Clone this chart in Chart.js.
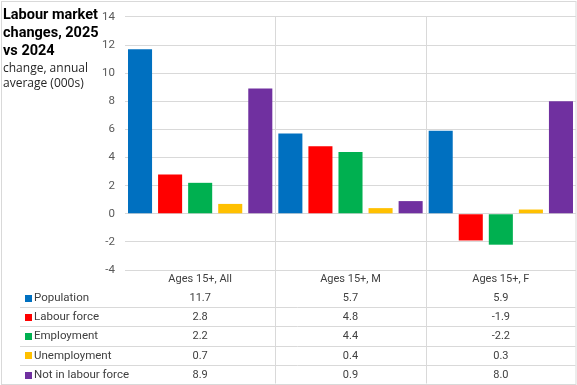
<!DOCTYPE html>
<html>
<head>
<meta charset="utf-8">
<script src="https://cdn.jsdelivr.net/npm/chart.js@4/dist/chart.umd.min.js"></script>
<style>
  html, body { margin: 0; padding: 0; background: #fff; }
  #wrap { width: 577px; height: 385px; position: relative; }
</style>
</head>
<body>
<div id="wrap"><canvas id="c" width="577" height="385"></canvas></div>
<script>
const categories = ["Ages 15+, All", "Ages 15+, M", "Ages 15+, F"];
const population = [11.7, 5.7, 5.9];
const labourForce = [2.8, 4.8, -1.9];
const employment = [2.2, 4.4, -2.2];
const unemployment = [0.7, 0.4, 0.3];
const notInLabourForce = [8.9, 0.9, 8.0];
const seriesNames = ["Population", "Labour force", "Employment", "Unemployment", "Not in labour force"];
const seriesColors = ["#0070C0", "#FF0000", "#00B050", "#FFC000", "#7030A0"];
const titleLines = ["Labour market", "changes, 2025", "vs 2024"];
const subtitleLines = ["change, annual", "average (000s)"];
const yTicks = { min: -4, max: 14, step: 2 };

const seriesValues = [population, labourForce, employment, unemployment, notInLabourForce];
const FONT = "Roboto, 'Noto Sans', sans-serif";
const GRID = "#d9d9d9";
const TEXT = "#404040";

const fmt = v => v.toFixed(1);

const tablePlugin = {
  id: "tablePlugin",
  afterDraw(chart) {
    const ctx = chart.ctx;
    const xs = chart.scales.x;
    const ca = chart.chartArea;
    const W = chart.width, H = chart.height;
    ctx.save();
    // outer border
    ctx.strokeStyle = GRID;
    ctx.lineWidth = 1;
    ctx.strokeRect(1.5, 1.5, W - 2.5, H - 2);

    // vertical separators between categories
    ctx.beginPath();
    for (let i = 0; i < categories.length - 1; i++) {
      const x = Math.round((xs.getPixelForValue(i) + xs.getPixelForValue(i + 1)) / 2) + 0.5;
      ctx.moveTo(x, ca.top);
      ctx.lineTo(x, H - 1.5);
    }
    ctx.stroke();

    // table rows
    const rowH = 19.3;
    const headerY = ca.bottom + 9;
    const firstRowY = ca.bottom + 27.5;
    ctx.beginPath();
    for (let r = 0; r < seriesNames.length - 1; r++) {
      const yLine = Math.round(firstRowY + r * rowH + rowH / 2) + 0.5;
      ctx.moveTo(20, yLine);
      ctx.lineTo(W - 1.5, yLine);
    }
    ctx.stroke();

    ctx.font = "11px " + FONT;
    ctx.fillStyle = TEXT;
    ctx.textBaseline = "middle";
    ctx.textAlign = "center";
    categories.forEach((c, i) => {
      ctx.fillText(c, xs.getPixelForValue(i), headerY);
    });
    seriesNames.forEach((name, r) => {
      const y = firstRowY + r * rowH;
      ctx.fillStyle = seriesColors[r];
      ctx.fillRect(25, Math.round(y) - 3, 7, 7);
      ctx.fillStyle = TEXT;
      ctx.textAlign = "left";
      ctx.font = "11.5px " + FONT;
      ctx.fillText(name, 34, y + 0.5);
      ctx.textAlign = "center";
      ctx.font = "11px " + FONT;
      seriesValues[r].forEach((v, i) => {
        ctx.fillText(fmt(v), xs.getPixelForValue(i), y + 0.5);
      });
    });

    // title
    ctx.fillStyle = "#000";
    ctx.textAlign = "left";
    ctx.textBaseline = "alphabetic";
    ctx.font = "bold 14.5px " + FONT;
    titleLines.forEach((t, i) => ctx.fillText(t, 3, 19 + i * 18));
    ctx.fillStyle = "#262626";
    ctx.font = "12px 'Open Sans', " + FONT;
    subtitleLines.forEach((t, i) => ctx.fillText(t, 3, 72 + i * 15));
    ctx.restore();
  }
};

new Chart(document.getElementById("c"), {
  type: "bar",
  data: {
    labels: categories,
    datasets: seriesNames.map((n, i) => ({
      label: n,
      data: seriesValues[i],
      backgroundColor: seriesColors[i],
      borderWidth: 0
    }))
  },
  options: {
    responsive: false,
    animation: false,
    events: [],
    layout: { padding: { top: 10, right: 1, bottom: 0, left: 0 } },
    datasets: { bar: { categoryPercentage: 1.0, barPercentage: 0.8 } },
    plugins: { legend: { display: false }, tooltip: { enabled: false }, title: { display: false } },
    scales: {
      x: {
        ticks: { display: false },
        grid: { display: false },
        border: { display: false },
        afterFit(scale) { scale.height = 115; }
      },
      y: {
        min: yTicks.min,
        max: yTicks.max,
        ticks: { stepSize: yTicks.step, color: "#595959", font: { family: FONT, size: 11.5 }, padding: 10 },
        grid: { color: GRID, drawTicks: false },
        border: { display: false },
        afterFit(scale) { scale.width = 125; }
      }
    }
  },
  plugins: [tablePlugin]
});
</script>
</body>
</html>
